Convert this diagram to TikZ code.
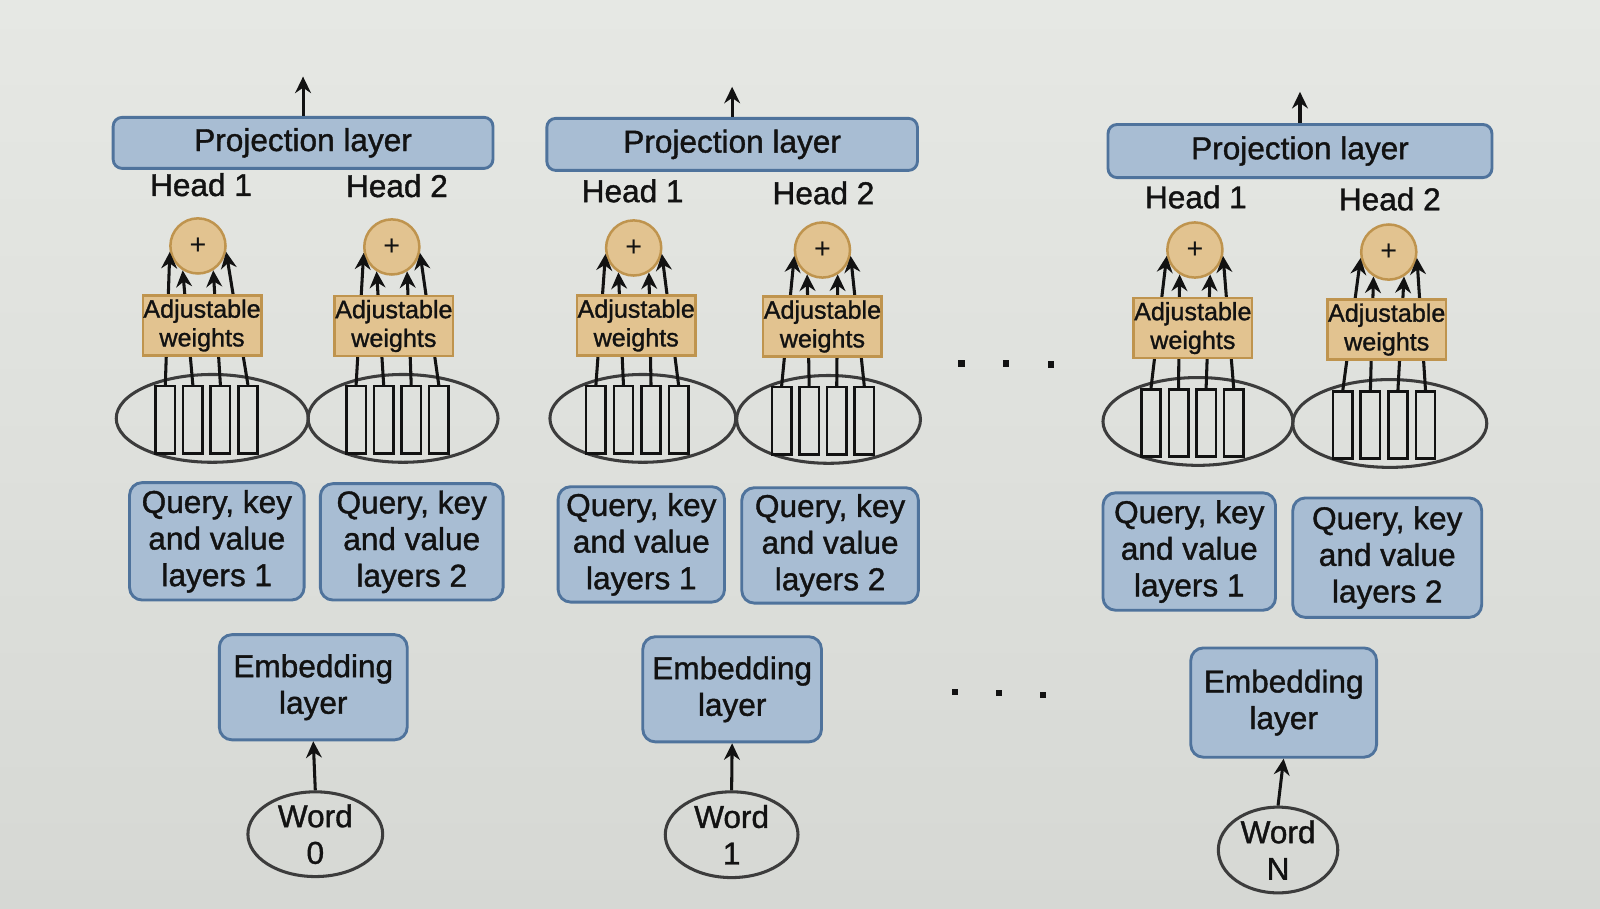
\documentclass[tikz,border=0pt]{standalone}
\usepackage{fontspec}
\setmainfont{Liberation Sans}
\newfontfamily\diafont[FakeBold=1.2]{Liberation Sans}
\usetikzlibrary{arrows.meta,calc,shapes.geometric}
\definecolor{bgtop}{HTML}{E6E8E4}
\definecolor{bgbot}{HTML}{D6D8D4}
\definecolor{bluefill}{HTML}{A8BDD3}
\definecolor{bluedraw}{HTML}{4F739C}
\definecolor{tanfill}{HTML}{E2C390}
\definecolor{tandraw}{HTML}{BF944E}
\definecolor{ellgray}{HTML}{3C3C3C}
\definecolor{inkc}{HTML}{121212}
\tikzset{
  txt/.style={font=\diafont\fontsize{8.8}{10.2}\selectfont, text=inkc},
  bluebox/.style={draw=bluedraw, fill=bluefill, line width=0.8pt, rounded corners=3.5pt,
    align=center, inner sep=0pt, txt},
  projbox/.style={bluebox, rounded corners=2.5pt},
  wbox/.style={draw=tandraw, fill=tanfill, line width=0.7pt, align=center, inner sep=0pt,
    minimum width=1.16cm, minimum height=0.59cm,
    font=\diafont\fontsize{7}{8}\selectfont, text=inkc},
  sumnode/.style={circle, draw=tandraw, fill=tanfill, line width=0.7pt, inner sep=0pt,
    minimum size=0.54cm, font=\fontsize{8}{8}\selectfont, text=inkc},
  headell/.style={ellipse, draw=ellgray, line width=0.85pt, inner sep=0pt, minimum height=0.86cm},
  barbox/.style={draw=inkc, line width=0.7pt, inner sep=0pt, minimum width=0.19cm, minimum height=0.66cm},
  wordell/.style={ellipse, draw=ellgray, line width=0.85pt, inner sep=0pt, align=center, txt},
  headlbl/.style={inner sep=0pt, txt},
  arr/.style={draw=inkc, line width=0.85pt, -{Stealth[length=4.6pt,width=4.4pt]}},
  dotsq/.style={fill=inkc, inner sep=0pt, minimum size=0.065cm},
}
% #1 id, #2 #3 sum circle, #4 #5 weights box, #6 #7 ellipse centre, #8 ellipse half width
\newcommand\mhhead[8]{%
  \node[sumnode] (#1c) at (#2,#3) {+};
  \node[headell, minimum width=#8*0.02cm] (#1e) at (#6,#7) {};
  \node[barbox] (#1b1) at ($(#6,#7)+(-46,1.5)$) {};
  \node[barbox] (#1b2) at ($(#6,#7)+(-19,1.5)$) {};
  \node[barbox] (#1b3) at ($(#6,#7)+(8,1.5)$) {};
  \node[barbox] (#1b4) at ($(#6,#7)+(35,1.5)$) {};
  \draw[arr] (#1b1.north) -- (#1c.192);
  \draw[arr] (#1b2.north) -- (#1c.238);
  \draw[arr] (#1b3.north) -- (#1c.302);
  \draw[arr] (#1b4.north) -- (#1c.348);
  \node[wbox] (#1w) at (#4,#5) {Adjustable\\weights};
}
\begin{document}
\begin{tikzpicture}[x=0.01cm, y=-0.01cm]
\useasboundingbox (0,0) rectangle (1568,890);
\shade[top color=bgtop, bottom color=bgbot] (0,0) rectangle (1568,890);

% ---------- column 1 (Word 0) ----------
\node[projbox, minimum width=3.72cm, minimum height=0.50cm] (pA) at (297,140) {Projection layer};
\coordinate (oA) at (297,75);
\draw[arr] (pA.north) -- (oA);
\node[headlbl] (hA1) at (197,181) {Head 1};
\node[headlbl] (hA2) at (389,182) {Head 2};
\mhhead{aa}{194}{241}{198}{319}{208}{410}{94}
\mhhead{ab}{384}{242}{386}{319.5}{395}{410}{93}
\node[bluebox, minimum width=1.71cm, minimum height=1.15cm] (qA1) at (212.5,530.5) {Query, key\\and value\\layers 1};
\node[bluebox, minimum width=1.79cm, minimum height=1.14cm] (qA2) at (403.5,531) {Query, key\\and value\\layers 2};
\node[bluebox, minimum width=1.84cm, minimum height=1.03cm] (eA) at (307,673.5) {Embedding\\layer};
\node[wordell, minimum width=1.32cm, minimum height=0.83cm] (wA) at (309,817.5) {Word\\0};
\draw[arr] (wA.north) -- (eA.south);

% ---------- column 2 (Word 1) ----------
\node[projbox, minimum width=3.63cm, minimum height=0.51cm] (pB) at (717.5,141.5) {Projection layer};
\coordinate (oB) at (717.5,85);
\draw[arr] (pB.north) -- (oB);
\node[headlbl] (hB1) at (620,187) {Head 1};
\node[headlbl] (hB2) at (807,189) {Head 2};
\mhhead{ba}{621}{243}{623.5}{319}{630}{410}{91}
\mhhead{bb}{806}{245}{806}{320}{812}{411}{90}
\node[bluebox, minimum width=1.63cm, minimum height=1.13cm] (qB1) at (628.5,533.5) {Query, key\\and value\\layers 1};
\node[bluebox, minimum width=1.73cm, minimum height=1.13cm] (qB2) at (813.5,534.5) {Query, key\\and value\\layers 2};
\node[bluebox, minimum width=1.75cm, minimum height=1.03cm] (eB) at (717.5,675.5) {Embedding\\layer};
\node[wordell, minimum width=1.30cm, minimum height=0.84cm] (wB) at (717,818) {Word\\1};
\draw[arr] (wB.north) -- (eB.south);

% ---------- dots ----------
\node[dotsq] (dt1) at (942,356) {};
\node[dotsq] (dt2) at (986,356.5) {};
\node[dotsq] (dt3) at (1030,357) {};
\node[dotsq] (db1) at (936,678) {};
\node[dotsq] (db2) at (979,679) {};
\node[dotsq] (db3) at (1022,681) {};

% ---------- column 3 (Word N) ----------
\node[projbox, minimum width=3.76cm, minimum height=0.52cm] (pC) at (1274,148) {Projection layer};
\coordinate (oC) at (1274,90);
\draw[arr] (pC.north) -- (oC);
\node[headlbl] (hC1) at (1172,193) {Head 1};
\node[headlbl] (hC2) at (1362,195) {Head 2};
\mhhead{ca}{1171}{245}{1169}{321.5}{1174}{413}{93}
\mhhead{cb}{1361}{247}{1359}{323}{1362}{415}{95}
\node[bluebox, minimum width=1.69cm, minimum height=1.15cm] (qC1) at (1165.5,540.5) {Query, key\\and value\\layers 1};
\node[bluebox, minimum width=1.85cm, minimum height=1.17cm] (qC2) at (1359.5,546.5) {Query, key\\and value\\layers 2};
\node[bluebox, minimum width=1.82cm, minimum height=1.07cm] (eC) at (1258,688.5) {Embedding\\layer};
\node[wordell, minimum width=1.17cm, minimum height=0.84cm] (wC) at (1252.5,833) {Word\\N};
\draw[arr] (wC.north) -- (eC.south);
\end{tikzpicture}
\end{document}
